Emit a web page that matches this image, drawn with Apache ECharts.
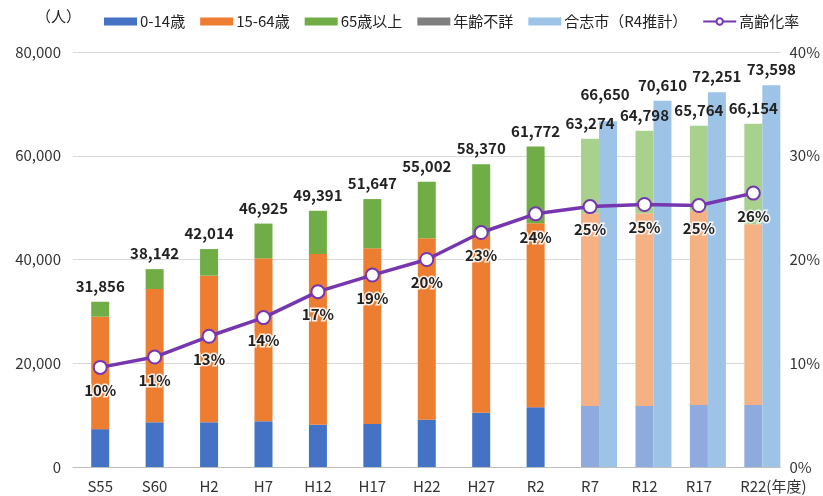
<!DOCTYPE html>
<html>
<head>
<meta charset="utf-8">
<script src="https://cdn.jsdelivr.net/npm/echarts@6/dist/echarts.min.js"></script>
<style>
html,body{margin:0;padding:0;background:#fff;}
#chart{width:823px;height:496px;}
</style>
</head>
<body>
<div id="chart"></div>
<script>
const categories = ['S55','S60','H2','H7','H12','H17','H22','H27','R2','R7','R12','R17','R22'];
const age0to14 = [7300,8620,8620,8810,8150,8290,9120,10470,11510,11760,11760,11950,11950];
const age15to64 = [21670,25690,28260,31420,32910,33870,34960,34060,35470,37140,37140,37400,34830];
const age65plus = [2886,3832,5134,6695,8331,9487,10922,13840,14792,14374,15898,16414,19374];
const ageUnknown = [null,null,null,null,null,null,null,null,null,null,null,null,null];
const totals = [31856,38142,42014,46925,49391,51647,55002,58370,61772,63274,64798,65764,66154];
const koshiR4 = [null,null,null,null,null,null,null,null,null,66650,70610,72251,73598];
const agingRate = [9.6,10.6,12.6,14.4,16.9,18.5,20.0,22.6,24.4,25.1,25.3,25.2,26.4];
const leftTicks = [0,20000,40000,60000,80000];
const rightTicks = [0,10,20,30,40];
const firstProjection = 9;

const FONT = '"Noto Sans CJK JP", "Noto Sans", sans-serif';
const fmt = v => String(v).replace(/\B(?=(\d{3})+(?!\d))/g, ',');

const colors = {
  c0: ['#4472C4', '#8FAADC'],
  c1: ['#ED7D31', '#F4B183'],
  c2: ['#70AD47', '#A9D18E'],
  unk: '#7F7F7F',
  koshi: '#9DC3E6',
  line: '#7636B0'
};

function items(arr, pair) {
  return arr.map((v, i) => ({
    value: v,
    itemStyle: { color: i >= firstProjection ? pair[1] : pair[0] }
  }));
}

const totalLabel = {
  show: true, position: 'top', distance: 8,
  fontFamily: FONT, fontSize: 15, fontWeight: 'bold', color: '#222',
  formatter: p => fmt(totals[p.dataIndex])
};

const chart = echarts.init(document.getElementById('chart'), null, { renderer: 'canvas' });
chart.setOption({
  animation: false,
  backgroundColor: '#fff',
  textStyle: { fontFamily: FONT },
  grid: { left: 73, right: 39, top: 52, bottom: 29 },
  legend: {
    left: 99, top: 9,
    itemWidth: 33, itemHeight: 8, itemGap: 15,
    textStyle: { fontFamily: FONT, fontSize: 15, color: '#222', padding: [0, 0, 0, -2] },
    data: [
      { name: '0-14歳', icon: 'rect' },
      { name: '15-64歳', icon: 'rect' },
      { name: '65歳以上', icon: 'rect' },
      { name: '年齢不詳', icon: 'rect' },
      { name: '合志市（R4推計）', icon: 'rect' },
      { name: '高齢化率' }
    ]
  },
  graphic: [{
    type: 'text', left: 36, top: 9,
    style: { text: '（人）', font: '15px ' + FONT, fill: '#222' }
  }],
  xAxis: [{
    type: 'category', data: categories,
    axisTick: { show: false },
    axisLine: { lineStyle: { color: '#BFBFBF', width: 1 } },
    axisLabel: {
      interval: 0,
      fontFamily: FONT, fontSize: 15, color: '#333', margin: 12,
      formatter: (v, i) => i === categories.length - 1 ? '{sp|}' + v + '(年度)' : v,
      rich: { sp: { width: 40 } }
    }
  }, {
    type: 'category', data: categories, show: false
  }],
  yAxis: [{
    type: 'value', min: 0, max: leftTicks[leftTicks.length - 1], interval: leftTicks[1] - leftTicks[0],
    axisLine: { show: false }, axisTick: { show: false },
    axisLabel: { fontFamily: FONT, fontSize: 15, color: '#333', margin: 12, formatter: v => fmt(v) },
    splitLine: { lineStyle: { color: '#D9D9D9', width: 1 } }
  }, {
    type: 'value', min: 0, max: rightTicks[rightTicks.length - 1], interval: rightTicks[1] - rightTicks[0],
    axisLine: { show: false }, axisTick: { show: false },
    axisLabel: { fontFamily: FONT, fontSize: 15, color: '#333', margin: 9, formatter: '{value}%' },
    splitLine: { show: false }
  }],
  series: [
    { name: '0-14歳', type: 'bar', stack: 'pop', barWidth: 18, itemStyle: { color: colors.c0[0] }, data: items(age0to14, colors.c0) },
    { name: '15-64歳', type: 'bar', stack: 'pop', barWidth: 18, itemStyle: { color: colors.c1[0] }, data: items(age15to64, colors.c1) },
    { name: '65歳以上', type: 'bar', stack: 'pop', barWidth: 18, itemStyle: { color: colors.c2[0] }, data: items(age65plus, colors.c2), label: totalLabel },
    { name: '年齢不詳', type: 'bar', stack: 'pop', barWidth: 18, itemStyle: { color: colors.unk }, data: ageUnknown },
    { name: 'pad1', type: 'bar', xAxisIndex: 1, barWidth: 18, barGap: '0%', silent: true, data: koshiR4.map(() => null) },
    { name: 'pad2', type: 'bar', xAxisIndex: 1, barWidth: 18, barGap: '0%', silent: true, data: koshiR4.map(() => null) },
    {
      name: '合志市（R4推計）', type: 'bar', xAxisIndex: 1, barWidth: 18, barGap: '0%',
      itemStyle: { color: colors.koshi },
      label: { show: true, position: 'top', distance: 8, fontFamily: FONT, fontSize: 15, fontWeight: 'bold', color: '#222', formatter: p => fmt(p.value) },
      data: koshiR4.map((v, i) => i === firstProjection ? { value: v, label: { offset: [-3, -11] } } : v)
    },
    {
      name: '高齢化率', type: 'line', yAxisIndex: 1, z: 10,
      symbol: 'circle', symbolSize: 13,
      lineStyle: { color: colors.line, width: 3.5 },
      itemStyle: { color: '#fff', borderColor: colors.line, borderWidth: 2 },
      label: {
        show: true, position: 'bottom', distance: 8,
        fontFamily: FONT, fontSize: 15, fontWeight: 'bold', color: '#222',
        textBorderColor: 'rgba(255,255,255,0.85)', textBorderWidth: 3,
        formatter: p => Math.round(p.value) + '%'
      },
      data: agingRate
    }
  ]
});
</script>
</body>
</html>
